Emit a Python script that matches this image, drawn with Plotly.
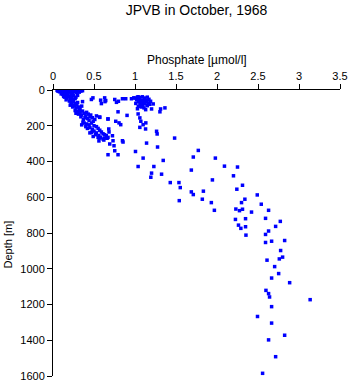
import plotly.graph_objects as go

# Phosphate [umol/l] and depth [m]
phos_surface = [0.05,0.07,0.09,0.10,0.12,0.13,0.15,0.16,0.18,0.19,0.20,0.21,0.22,0.23,0.25,0.26,0.27,0.28,0.30,0.31,0.33,0.34,0.36,0.12,0.14,0.08,0.17,0.24,0.29,0.32,0.06,0.11,
                0.12,0.15,0.18,0.20,0.22,0.14,0.17,0.19,0.23,0.25,0.16,0.21,0.24,0.27,0.13,0.28,0.10,0.30,
                0.20,0.22,0.25,0.27,0.23,0.26,0.29,0.31,0.24,0.28,0.33,0.30,0.36,0.21,0.35,0.32]
depth_surface = [2,5,1,8,3,10,2,6,12,4,1,9,15,3,7,2,11,5,3,8,2,6,4,15,18,10,20,18,14,12,6,12,
                 25,30,28,35,25,40,45,38,42,32,55,50,55,48,35,40,22,30,
                 62,70,65,75,80,88,82,95,95,100,105,70,65,85,90,110]

phos_upper = [0.27,0.30,0.33,0.36,0.38,0.31,0.35,0.40,0.43,0.46,0.34,0.39,0.42,0.45,0.48,0.51,0.37,0.44,0.49,0.53,0.28,0.41,
              0.38,0.41,0.44,0.47,0.50,0.45,0.42,0.48,0.53,0.55,0.50,0.57,0.53,0.59,0.52,0.56,0.61,0.49,0.58,0.63,0.45,0.40,0.62,0.66,0.56,0.35,
              0.57,0.67,0.365,0.47,0.55,0.61,0.65,0.68,0.643,0.671,0.732]
depth_upper = [115,120,125,118,130,135,140,145,135,140,150,155,160,150,155,165,165,170,175,145,130,125,
               185,190,195,185,200,210,215,220,205,215,230,225,240,235,250,255,245,260,265,250,240,205,280,270,285,195,
               153,162,181,237,265,274,256,218,59,265,284]

phos_cluster = [1.00,1.03,1.06,1.09,1.12,1.15,1.02,1.05,1.08,1.11,1.14,1.17,1.04,1.07,1.10,1.13,1.16,1.19,1.01,1.06,1.09,1.12,1.15,1.08,1.11,1.04,1.18,1.03,1.13]
depth_cluster = [45,40,42,38,45,40,55,52,58,55,60,52,65,68,70,66,72,63,75,80,85,78,88,95,100,92,80,105,110]

phos_mid = [0.468,0.487,0.581,0.590,0.630,0.634,0.753,0.774,0.798,0.847,0.887,0.957,0.985,1.038,1.222,1.202,1.312,1.365,1.304,0.793,
            0.903,0.569,0.671,1.038,1.059,1.071,0.765,0.805,0.826,1.099,1.132,1.059,1.129,1.263,1.270,1.483,0.683,0.725,0.847,0.854,
            1.141,0.630,0.569,0.692,0.744,0.753,0.793,0.671,1.006,1.275,1.099,1.344,1.038,1.230,1.202,1.324,1.193,1.430,1.536,1.552,1.540]
depth_mid = [53,44,57,76,44,65,53,69,63,49,49,49,44,38,78,106,106,100,122,122,
             142,151,162,134,156,175,175,184,194,194,184,209,218,231,246,269,235,256,284,291,
             297,269,269,302,312,340,362,362,344,319,381,394,428,428,465,471,488,518,518,546,619]

phos_deep = [1.772,1.711,1.980,2.091,2.250,1.687,2.201,1.944,2.311,2.242,1.834,1.687,1.711,2.491,1.821,2.340,1.931,2.299,2.540,2.230,
             2.311,2.274,1.968,2.421,2.629,2.772,2.225,2.348,2.592,2.262,2.348,2.715,2.291,2.353,2.629,2.592,2.592,2.666,2.825,2.776,
             2.760,2.800,2.610,2.703,2.752,2.666,2.886,2.597,2.629,2.641,3.136,2.666,2.494,2.666,2.825,2.629,2.715,2.556]
depth_deep = [338,375,381,426,431,448,480,503,533,555,566,570,585,587,611,611,630,630,639,666,
              667,675,673,683,673,735,724,720,718,756,765,763,774,812,789,808,853,846,842,898,
              945,935,952,988,1027,1052,1078,1121,1139,1158,1173,1212,1267,1304,1372,1398,1492,1585]

phosphate = phos_surface + phos_upper + phos_cluster + phos_mid + phos_deep
depth = depth_surface + depth_upper + depth_cluster + depth_mid + depth_deep

x_ticks = [0, 0.5, 1, 1.5, 2, 2.5, 3, 3.5]
y_ticks = [0, 200, 400, 600, 800, 1000, 1200, 1400, 1600]

font_family = "Liberation Sans, Arial, sans-serif"

fig = go.Figure(go.Scatter(
    x=phosphate, y=depth, mode="markers",
    marker=dict(symbol="square", size=3.5, color="#0000ff", line=dict(width=0)),
    hoverinfo="skip",
))

fig.update_layout(
    width=350, height=384,
    margin=dict(l=53, r=10, t=90, b=8, autoexpand=False),
    paper_bgcolor="white", plot_bgcolor="white",
    showlegend=False,
    font=dict(family=font_family, color="black", size=11),
    title=dict(text="JPVB in October, 1968", x=0.5, xref="paper", xanchor="center",
               y=1 - 10/384, yref="container", yanchor="middle",
               font=dict(family=font_family, size=14, color="black")),
    xaxis=dict(side="top", range=[0, 3.5], tickvals=x_ticks,
               ticktext=[str(v) if v != int(v) else str(int(v)) for v in x_ticks],
               ticks="outside", ticklen=5, tickwidth=1, tickcolor="black",
               showline=True, linecolor="black", linewidth=1, automargin=False,
               showgrid=False, zeroline=False, tickfont=dict(size=11)),
    yaxis=dict(range=[1600, 0], tickvals=y_ticks,
               ticks="outside", ticklen=5, tickwidth=1, tickcolor="black",
               showline=True, linecolor="black", linewidth=1, automargin=False,
               showgrid=False, zeroline=False, tickfont=dict(size=11)),
    annotations=[
        dict(text="Phosphate [µmol/l]", x=0.5, y=1 + 30/286, xref="paper", yref="paper",
             xanchor="center", yanchor="middle", showarrow=False, font=dict(size=12)),
        dict(text="Depth [m]", x=(8 - 53) / 287, y=0.46, xref="paper", yref="paper",
             xanchor="center", yanchor="middle", showarrow=False, textangle=-90, font=dict(size=11)),
    ],
)

fig.write_html("out.html")
